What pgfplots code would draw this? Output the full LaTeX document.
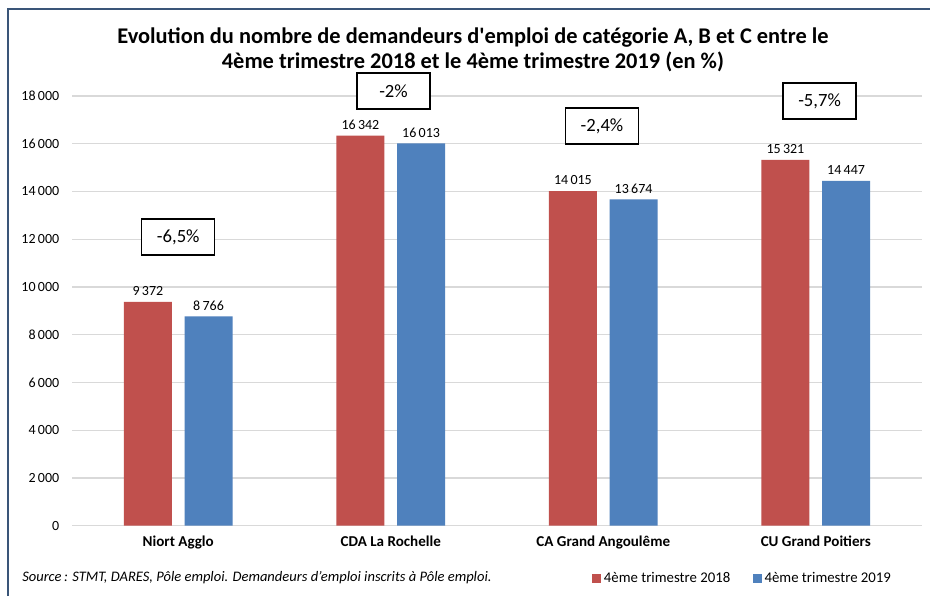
\documentclass[border=0pt]{standalone}
\usepackage{fontspec}
\setmainfont{Carlito}[Ligatures=TeXOff]
\usepackage{pgfplots}
\pgfplotsset{compat=1.18}

\definecolor{barred}{HTML}{C0504D}
\definecolor{barblue}{HTML}{4F81BD}
\definecolor{gridgray}{HTML}{D9D9D9}
\definecolor{framecol}{HTML}{3A5578}

\begin{document}
\begin{tikzpicture}
\useasboundingbox (0,0) rectangle (697.5pt,447pt);
\fill[white] (0,0) rectangle (697.5pt,447pt);
% chart frame (only top and left edges show)
\draw[framecol, line width=1.6pt] (6pt,0) -- (6pt,440pt) -- (697.5pt,440pt);

\node[font=\bfseries\fontsize{16.8}{18.75}\selectfont, align=center] at (354.75pt,409.9pt)
  {Evolution du nombre de demandeurs d'emploi de catégorie A, B et C entre le\\
   4ème trimestre 2018 et le 4ème trimestre 2019 (en \%)};

\begin{axis}[
  at={(54pt,52.7pt)}, anchor=south west,
  scale only axis, width=637.5pt, height=322.3pt,
  ybar=9.5pt, bar width=36pt,
  xmin=-0.5, xmax=3.5, ymin=0, ymax=18000,
  xtick={0,1,2,3},
  xticklabels={Niort Agglo, CDA La Rochelle, CA Grand Angoulême, CU Grand Poitiers},
  xticklabel style={font=\bfseries\fontsize{11.3}{13}\selectfont, yshift=-4pt},
  ytick={0,2000,...,18000},
  yticklabel style={font=\fontsize{10.5}{12}\selectfont, xshift=-6pt},
  /pgf/number format/.cd, 1000 sep={\,}, assume math mode=true, /pgfplots/.cd,
  scaled y ticks=false,
  major tick length=0pt,
  axis line style={draw=none},
  ymajorgrids, grid style={gridgray, line width=0.9pt},
  clip=false,
  nodes near coords,
  every node near coord/.append style={font=\fontsize{10.5}{12}\selectfont, text=black, yshift=1pt},
  legend image code/.code={\fill[#1] (0pt,-3.4pt) rectangle (6.75pt,3.4pt);},
  legend style={at={(0.607,-0.1235)}, anchor=west, draw=none, fill=none,
    legend columns=2, font=\fontsize{11.1}{13}\selectfont,
    /tikz/every even column/.append style={column sep=15pt}},
  legend cell align=left,
]
\addplot[draw=none, fill=barred] coordinates {(0,9372) (1,16342) (2,14015) (3,15321)};
\addplot[draw=none, fill=barblue] coordinates {(0,8766) (1,16013) (2,13674) (3,14447)};
\legend{4ème trimestre 2018, 4ème trimestre 2019}

\tikzset{pct/.style={draw=black, line width=1.1pt, fill=white, minimum width=54.75pt,
  minimum height=27pt, inner sep=0pt, font=\fontsize{14}{16}\selectfont}}
\node[pct] at (axis cs:0,12095) {-6,5\%};
\node[pct] at (axis cs:1.013,18211) {-2\%};
\node[pct] at (axis cs:1.994,16745) {-2,4\%};
\node[pct] at (axis cs:3.018,17793) {-5,7\%};
\end{axis}

\node[anchor=west, font=\itshape\fontsize{10.9}{12}\selectfont, inner sep=0pt] at (16.5pt,13.5pt)
  {Source\,: STMT, DARES, Pôle emploi. Demandeurs d’emploi inscrits à Pôle emploi.};
\end{tikzpicture}
\end{document}
